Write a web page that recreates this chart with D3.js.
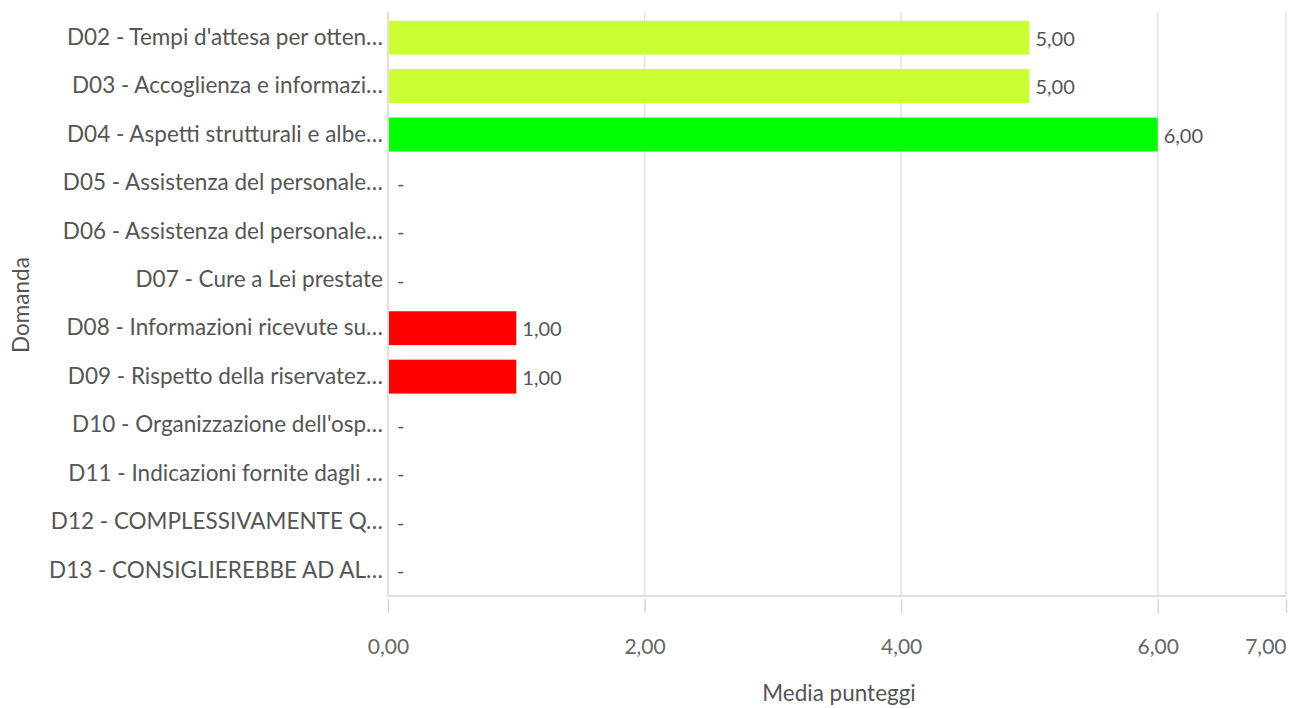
<!DOCTYPE html>
<html>
<head>
<meta charset="utf-8">
<script src="https://cdn.jsdelivr.net/npm/d3@7"></script>
<style>
  html, body { margin: 0; padding: 0; background: #fff; }
  svg { display: block; }
  svg text { font-family: Lato, "Open Sans", sans-serif; }
</style>
</head>
<body>
<svg id="chart" width="1289" height="708"></svg>
<script>
const categories = [
  "D02 - Tempi d'attesa per otten…",
  "D03 - Accoglienza e informazi…",
  "D04 - Aspetti strutturali e albe…",
  "D05 - Assistenza del personale…",
  "D06 - Assistenza del personale…",
  "D07 - Cure a Lei prestate",
  "D08 - Informazioni ricevute su…",
  "D09 - Rispetto della riservatez…",
  "D10 - Organizzazione dell'osp…",
  "D11 - Indicazioni fornite dagli …",
  "D12 - COMPLESSIVAMENTE Q…",
  "D13 - CONSIGLIEREBBE AD AL…"
];
const values = [5, 5, 6, null, null, null, 1, 1, null, null, null, null];
const barColors = ["#ccff33", "#ccff33", "#00ff00", null, null, null, "#ff0000", "#ff0000", null, null, null, null];
const tickValues = [0, 2, 4, 6, 7];
const xTitle = "Media punteggi";
const yTitle = "Domanda";

(function () {
const data = categories.map((c, i) => ({ cat: c, value: values[i], color: barColors[i] }));
const fmt = v => d3.format(".2f")(v).replace(".", ",");

const svg = d3.select("#chart");
const pLeft = 388, pRight = 1286, pTop = 12, pBottom = 596;

const x = d3.scaleLinear().domain([0, 7]).range([pLeft, pRight]);
const y = d3.scaleBand().domain(categories).range([pTop, pBottom]).paddingInner(0.3).paddingOuter(0.18);

// grid lines
svg.append("g").selectAll("line").data(tickValues.filter(t => t > 0)).join("line")
  .attr("x1", d => x(d)).attr("x2", d => x(d))
  .attr("y1", pTop).attr("y2", pBottom)
  .attr("stroke", "#e2e2e2").attr("stroke-width", 1.5);

// bars
svg.append("g").selectAll("rect").data(data.filter(d => d.value != null)).join("rect")
  .attr("x", x(0) + 1).attr("y", d => y(d.cat))
  .attr("width", d => x(d.value) - x(0) - 1).attr("height", y.bandwidth())
  .attr("fill", d => d.color);

// value labels
svg.append("g").selectAll("text").data(data).join("text")
  .attr("x", d => d.value != null ? x(d.value) + 6 : x(0) + 9)
  .attr("y", d => y(d.cat) + y.bandwidth() / 2 + 1)
  .attr("dy", "0.35em")
  .attr("font-size", 20).attr("fill", "#555")
  .text(d => d.value != null ? fmt(d.value) : "-");

// y axis
const yAxis = svg.append("g").attr("transform", `translate(${pLeft},0)`)
  .call(d3.axisLeft(y).tickSize(0).tickPadding(5));
yAxis.attr("font-family", null).attr("font-size", null);
yAxis.select(".domain").attr("stroke", "#d6d6d6").attr("stroke-width", 1.5).attr("d", `M0,${pTop}V${pBottom}`);
yAxis.selectAll("text").attr("font-size", 22.5).attr("fill", "#555");

// x axis
const xAxis = svg.append("g").attr("transform", `translate(0,${pBottom})`)
  .call(d3.axisBottom(x).tickValues(tickValues).tickFormat(fmt).tickSize(17).tickPadding(26));
xAxis.attr("font-family", null).attr("font-size", null);
xAxis.select(".domain").attr("stroke", "#d6d6d6").attr("stroke-width", 1.5).attr("d", `M${pLeft},0H${pRight}`);
xAxis.selectAll(".tick line").attr("stroke", "#d6d6d6").attr("stroke-width", 1.5).attr("y1", 3);
xAxis.selectAll("text").attr("font-size", 21).attr("fill", "#666")
  .attr("text-anchor", d => d === 7 ? "end" : "middle");

// axis titles
svg.append("text").attr("x", (pLeft + pRight) / 2 + 2).attr("y", 701)
  .attr("text-anchor", "middle").attr("font-size", 22.5).attr("fill", "#555").text(xTitle);
svg.append("text").attr("transform", "translate(29,305) rotate(-90)")
  .attr("text-anchor", "middle").attr("font-size", 22.5).attr("fill", "#555").text(yTitle);
})();
</script>
</body>
</html>
